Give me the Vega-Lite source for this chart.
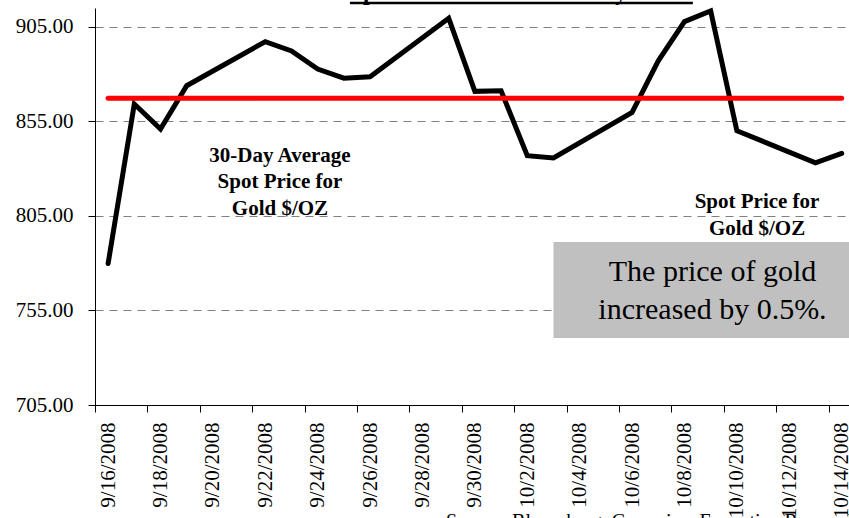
{
  "$schema": "https://vega.github.io/schema/vega-lite/v6.json",
  "width": 754,
  "height": 397,
  "autosize": {"type": "none"},
  "padding": {"left": 95, "top": 8, "right": 0, "bottom": 113},
  "background": "white",
  "config": {"view": {"stroke": null}},
  "data": {"values": [
    {"date": "2008-09-16", "price": 779.8, "avg": 867.2},
    {"date": "2008-09-17", "price": 864.2, "avg": 867.2},
    {"date": "2008-09-18", "price": 851.0, "avg": 867.2},
    {"date": "2008-09-19", "price": 873.9, "avg": 867.2},
    {"date": "2008-09-22", "price": 897.2, "avg": 867.2},
    {"date": "2008-09-23", "price": 892.3, "avg": 867.2},
    {"date": "2008-09-24", "price": 882.7, "avg": 867.2},
    {"date": "2008-09-25", "price": 877.9, "avg": 867.2},
    {"date": "2008-09-26", "price": 878.6, "avg": 867.2},
    {"date": "2008-09-29", "price": 909.6, "avg": 867.2},
    {"date": "2008-09-30", "price": 870.9, "avg": 867.2},
    {"date": "2008-10-01", "price": 871.2, "avg": 867.2},
    {"date": "2008-10-02", "price": 836.9, "avg": 867.2},
    {"date": "2008-10-03", "price": 835.7, "avg": 867.2},
    {"date": "2008-10-06", "price": 859.8, "avg": 867.2},
    {"date": "2008-10-07", "price": 887.1, "avg": 867.2},
    {"date": "2008-10-08", "price": 907.8, "avg": 867.2},
    {"date": "2008-10-09", "price": 913.4, "avg": 867.2},
    {"date": "2008-10-10", "price": 850.1, "avg": 867.2},
    {"date": "2008-10-13", "price": 833.1, "avg": 867.2},
    {"date": "2008-10-14", "price": 838.1, "avg": 867.2}
  ]},
  "layer": [
    {
      "data": {"values": [{}]},
      "mark": {"type": "rect", "color": "#c0c0c0"},
      "encoding": {
        "x": {"datum": {"year": 2008, "month": 10, "date": 3, "hours": 0, "utc": true}, "type": "temporal"},
        "x2": {"datum": {"year": 2008, "month": 10, "date": 14, "hours": 6, "minutes": 43, "utc": true}},
        "y": {"datum": 791.2, "type": "quantitative"},
        "y2": {"datum": 740.4}
      }
    },
    {
      "mark": {"type": "line", "color": "black", "strokeWidth": 5, "strokeCap": "round", "strokeJoin": "miter"},
      "encoding": {
        "x": {
          "field": "date", "type": "temporal",
          "scale": {"type": "utc", "domain": [
            {"year": 2008, "month": 9, "date": 15, "hours": 12, "utc": true},
            {"year": 2008, "month": 10, "date": 14, "hours": 6, "minutes": 43, "utc": true}
          ]},
          "axis": {
            "title": null,
            "values": [
              {"year": 2008, "month": 9, "date": 16, "utc": true},
              {"year": 2008, "month": 9, "date": 18, "utc": true},
              {"year": 2008, "month": 9, "date": 20, "utc": true},
              {"year": 2008, "month": 9, "date": 22, "utc": true},
              {"year": 2008, "month": 9, "date": 24, "utc": true},
              {"year": 2008, "month": 9, "date": 26, "utc": true},
              {"year": 2008, "month": 9, "date": 28, "utc": true},
              {"year": 2008, "month": 9, "date": 30, "utc": true},
              {"year": 2008, "month": 10, "date": 2, "utc": true},
              {"year": 2008, "month": 10, "date": 4, "utc": true},
              {"year": 2008, "month": 10, "date": 6, "utc": true},
              {"year": 2008, "month": 10, "date": 8, "utc": true},
              {"year": 2008, "month": 10, "date": 10, "utc": true},
              {"year": 2008, "month": 10, "date": 12, "utc": true},
              {"year": 2008, "month": 10, "date": 14, "utc": true}
            ],
            "labelExpr": "utcFormat(datum.value, '%-m/%-d/%Y')",
            "labelAngle": -90,
            "labelFont": "Liberation Serif",
            "labelFontSize": 21,
            "labelColor": "black",
            "labelPadding": 10,
            "labelOverlap": false,
            "labelFlush": false,
            "labelBound": false,
            "tickColor": "black",
            "tickSize": 7,
            "tickOffset": -13.1,
            "labelOffset": 13.1,
            "domainColor": "black",
            "grid": false
          }
        },
        "y": {
          "field": "price", "type": "quantitative",
          "scale": {"domain": [705, 915], "zero": false, "nice": false},
          "axis": {
            "title": null,
            "values": [705, 755, 805, 855, 905],
            "format": ".2f",
            "labelFont": "Liberation Serif",
            "labelFontSize": 21,
            "labelColor": "black",
            "labelPadding": 15,
            "tickColor": "black",
            "tickSize": 7,
            "domainColor": "black",
            "grid": true,
            "gridColor": "#808080",
            "gridDash": [8, 6],
            "gridWidth": 1
          }
        }
      }
    },
    {
      "mark": {"type": "line", "color": "#ff0000", "strokeWidth": 5, "strokeCap": "round"},
      "encoding": {
        "x": {"field": "date", "type": "temporal"},
        "y": {"field": "avg", "type": "quantitative"}
      }
    },
    {
      "data": {"values": [{}]},
      "mark": {"type": "text", "text": ["30-Day Average", "Spot Price for", "Gold $/OZ"], "font": "Liberation Serif", "fontWeight": "bold", "fontSize": 21, "lineHeight": 26.7, "align": "center", "baseline": "alphabetic", "color": "black"},
      "encoding": {
        "x": {"datum": {"year": 2008, "month": 9, "date": 22, "hours": 13, "minutes": 28, "utc": true}, "type": "temporal"},
        "y": {"datum": 833.7, "type": "quantitative"}
      }
    },
    {
      "data": {"values": [{}]},
      "mark": {"type": "text", "text": ["Spot Price for", "Gold $/OZ"], "font": "Liberation Serif", "fontWeight": "bold", "fontSize": 21, "lineHeight": 27, "align": "center", "baseline": "alphabetic", "color": "black"},
      "encoding": {
        "x": {"datum": {"year": 2008, "month": 10, "date": 10, "hours": 18, "minutes": 28, "utc": true}, "type": "temporal"},
        "y": {"datum": 809.2, "type": "quantitative"}
      }
    },
    {
      "data": {"values": [{}]},
      "mark": {"type": "text", "text": ["The price of gold", "increased by 0.5%."], "font": "Liberation Serif", "fontSize": 30, "lineHeight": 38.3, "align": "center", "baseline": "alphabetic", "color": "black"},
      "encoding": {
        "x": {"datum": {"year": 2008, "month": 10, "date": 9, "hours": 1, "minutes": 40, "utc": true}, "type": "temporal"},
        "y": {"datum": 770.8, "type": "quantitative"}
      }
    },
    {
      "data": {"values": [{}]},
      "mark": {"type": "text", "text": "Spot Price of Gold Monthly Trend", "font": "Liberation Serif", "fontWeight": "bold", "fontSize": 23.5, "align": "left", "baseline": "alphabetic", "color": "black"},
      "encoding": {
        "x": {"datum": {"year": 2008, "month": 9, "date": 25, "hours": 5, "minutes": 32, "utc": true}, "type": "temporal"},
        "y": {"datum": 919.2, "type": "quantitative"}
      }
    },
    {
      "data": {"values": [{}]},
      "mark": {"type": "rule", "color": "black", "strokeWidth": 2.5},
      "encoding": {
        "x": {"datum": {"year": 2008, "month": 9, "date": 25, "hours": 5, "minutes": 32, "utc": true}, "type": "temporal"},
        "x2": {"datum": {"year": 2008, "month": 10, "date": 8, "hours": 7, "minutes": 42, "utc": true}},
        "y": {"datum": 917.6, "type": "quantitative"}
      }
    },
    {
      "data": {"values": [{}]},
      "mark": {"type": "text", "text": "Source: Bloomberg, Comerica, Executive Research", "font": "Liberation Serif", "fontSize": 20, "align": "left", "baseline": "alphabetic", "color": "black"},
      "encoding": {
        "x": {"datum": {"year": 2008, "month": 9, "date": 28, "hours": 21, "minutes": 30, "utc": true}, "type": "temporal"},
        "y": {"datum": 640.0, "type": "quantitative"}
      }
    }
  ]
}
